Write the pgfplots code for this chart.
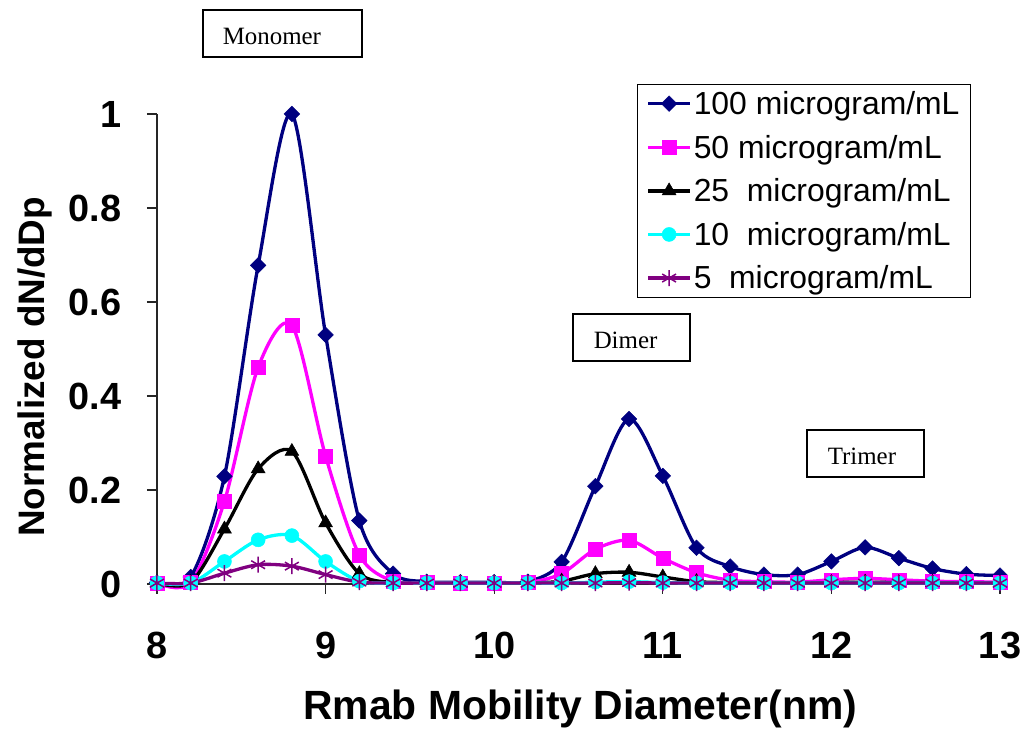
\documentclass[border=0pt]{standalone}
\usepackage{fontspec}
\setmainfont{Liberation Sans}
\newfontfamily\timesfont{Liberation Serif}
\usepackage{pgfplots}
\pgfplotsset{compat=1.18}
\definecolor{cNavy}{RGB}{0,0,128}
\definecolor{cMag}{RGB}{255,0,255}
\definecolor{cCyan}{RGB}{0,255,255}
\definecolor{cPurp}{RGB}{128,0,128}
\begin{document}
\begin{tikzpicture}
\useasboundingbox (-157bp,-149bp) rectangle (868bp,584bp);
\begin{axis}[at={(0,0)}, anchor=south west, scale only axis,
  width=843bp, height=470bp,
  xmin=8, xmax=13, ymin=0, ymax=1, clip=false,
  axis lines=left,
  axis line style={-, line width=1.2bp, black!85},
  tick style={line width=1.2bp, black!85},
  tick align=outside, major tick length=10bp,
  xtick={8,9,10,11,12,13},
  ytick={0,0.2,0.4,0.6,0.8,1},
  /pgf/number format/assume math mode=true,
  ticklabel style={font=\bfseries\fontsize{38}{44}\selectfont},
  xticklabel style={anchor=base, yshift=-64bp},
  yticklabel style={anchor=east, xshift=-22bp},
  xlabel={Rmab Mobility Diameter(nm)},
  xlabel style={at={(axis description cs:0.502,-0.289)}, anchor=base, font=\bfseries\fontsize{41}{47}\selectfont},
  ylabel={Normalized dN/dDp},
  ylabel style={at={(axis description cs:-0.145,0.462)}, anchor=center, font=\bfseries\fontsize{37}{44}\selectfont},
  legend style={at={(axis description cs:0.9656,1.064)}, anchor=north east,
    draw=black, line width=1bp, font=\fontsize{32}{36}\selectfont,
    inner xsep=9bp, inner ysep=5bp, row sep=15bp},
  legend cell align=left,
  legend image code/.code={\draw[mark repeat=2,mark phase=2,#1] plot coordinates {(0bp,0bp)(21bp,0bp)(42bp,0bp)};},
  every axis plot/.append style={smooth, line width=3.3bp},
]
\addplot[cNavy, mark=square*, mark size=5.5bp, mark options={rotate=45, fill=cNavy, line width=0.5bp}] coordinates {
(8.0,0.003)(8.2,0.015)(8.4,0.229)(8.6,0.678)(8.8,1.0)(9.0,0.530)(9.2,0.135)(9.4,0.022)(9.6,0.005)(9.8,0.004)(10.0,0.004)(10.2,0.005)(10.4,0.047)(10.6,0.208)(10.8,0.351)(11.0,0.230)(11.2,0.077)(11.4,0.037)(11.6,0.020)(11.8,0.020)(12.0,0.048)(12.2,0.078)(12.4,0.055)(12.6,0.033)(12.8,0.021)(13.0,0.018)};
\addlegendentry{100 microgram/mL}
\addplot[cMag, mark=square*, mark size=7bp, mark options={fill=cMag, line width=0.5bp}] coordinates {
(8.0,0.002)(8.2,0.003)(8.4,0.176)(8.6,0.461)(8.8,0.550)(9.0,0.272)(9.2,0.062)(9.4,0.006)(9.6,0.003)(9.8,0.002)(10.0,0.002)(10.2,0.003)(10.4,0.022)(10.6,0.074)(10.8,0.093)(11.0,0.055)(11.2,0.024)(11.4,0.008)(11.6,0.005)(11.8,0.004)(12.0,0.009)(12.2,0.012)(12.4,0.009)(12.6,0.006)(12.8,0.005)(13.0,0.004)};
\addlegendentry{50 microgram/mL}
\addplot[black, mark=triangle*, mark size=8bp, mark options={fill=black, line width=0.5bp}] coordinates {
(8.0,0.002)(8.2,0.003)(8.4,0.117)(8.6,0.245)(8.8,0.282)(9.0,0.130)(9.2,0.022)(9.4,0.003)(9.6,0.002)(9.8,0.002)(10.0,0.002)(10.2,0.002)(10.4,0.006)(10.6,0.022)(10.8,0.025)(11.0,0.015)(11.2,0.005)(11.4,0.003)(11.6,0.002)(11.8,0.002)(12.0,0.003)(12.2,0.004)(12.4,0.003)(12.6,0.003)(12.8,0.002)(13.0,0.002)};
\addlegendentry{25\ \ microgram/mL}
\addplot[cCyan, mark=*, mark size=7bp, mark options={fill=cCyan, line width=0.5bp}] coordinates {
(8.0,0.002)(8.2,0.002)(8.4,0.048)(8.6,0.094)(8.8,0.103)(9.0,0.048)(9.2,0.006)(9.4,0.002)(9.6,0.002)(9.8,0.002)(10.0,0.002)(10.2,0.002)(10.4,0.002)(10.6,0.004)(10.8,0.005)(11.0,0.003)(11.2,0.002)(11.4,0.002)(11.6,0.002)(11.8,0.002)(12.0,0.002)(12.2,0.002)(12.4,0.002)(12.6,0.002)(12.8,0.002)(13.0,0.002)};
\addlegendentry{10\ \ microgram/mL}
\addplot[cPurp, mark=asterisk, mark size=8bp, mark options={line width=1.5bp}] coordinates {
(8.0,0.002)(8.2,0.002)(8.4,0.023)(8.6,0.041)(8.8,0.038)(9.0,0.020)(9.2,0.004)(9.4,0.002)(9.6,0.002)(9.8,0.002)(10.0,0.002)(10.2,0.002)(10.4,0.002)(10.6,0.002)(10.8,0.003)(11.0,0.002)(11.2,0.002)(11.4,0.002)(11.6,0.002)(11.8,0.002)(12.0,0.002)(12.2,0.002)(12.4,0.002)(12.6,0.002)(12.8,0.002)(13.0,0.002)};
\addlegendentry{5\ \ microgram/mL}
\end{axis}
\begin{scope}[line width=1.5bp]
\draw (46bp,527bp) rectangle (205bp,574bp);
\node[anchor=west, inner sep=0pt, font=\timesfont\fontsize{25}{30}\selectfont] at (65bp,548bp) {Monomer};
\draw (416bp,223bp) rectangle (533bp,270bp);
\node[anchor=west, inner sep=0pt, font=\timesfont\fontsize{25}{30}\selectfont] at (436bp,244bp) {Dimer};
\draw (650bp,107bp) rectangle (767bp,154bp);
\node[anchor=west, inner sep=0pt, font=\timesfont\fontsize{25}{30}\selectfont] at (670bp,128bp) {Trimer};
\end{scope}
\end{tikzpicture}
\end{document}
